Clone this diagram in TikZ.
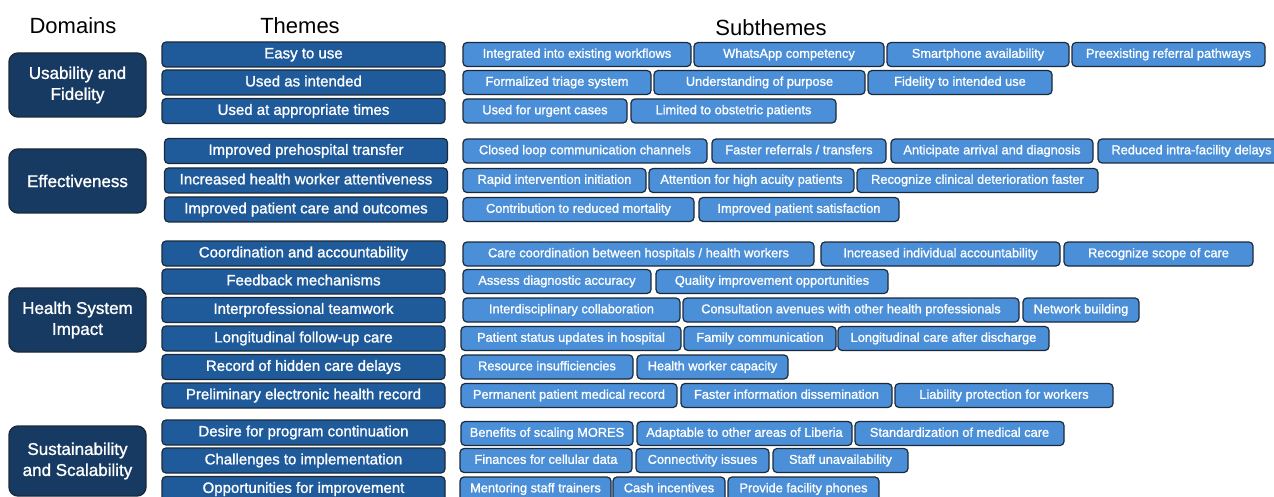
\documentclass[tikz,border=0pt]{standalone}
\usepackage{fontspec}
\setmainfont{Liberation Sans}
\newfontfamily\boxfont{Liberation Sans}[BoldFont={Liberation Sans}, BoldFeatures={FakeBold=1.2}]
\usepackage{tikz}
\usepackage{color}
\definecolor{domainblue}{HTML}{163A62}
\definecolor{themeblue}{HTML}{1F5B9B}
\definecolor{subblue}{HTML}{4A8FD8}
\definecolor{boxline}{HTML}{1B2A3A}
\tikzset{
	domainbox/.style={draw=boxline, line width=1.4pt, rounded corners=9pt, fill=domainblue, text=white, minimum width=137pt, minimum height=64pt, inner sep=0pt, align=center, font=\boxfont\bfseries\fontsize{17}{21}\selectfont},
	themebox/.style={draw=boxline, line width=1.2pt, rounded corners=4pt, fill=themeblue, text=white, minimum width=283pt, minimum height=25pt, inner sep=0pt, text height=11pt, text depth=3.2pt, font=\boxfont\bfseries\fontsize{15}{18}\selectfont},
	subbox/.style={draw=boxline, line width=1.2pt, rounded corners=4pt, fill=subblue, text=white, minimum height=24pt, inner sep=0pt, text height=9.4pt, text depth=2.8pt, font=\boxfont\bfseries\fontsize{12.8}{15}\selectfont},
	header/.style={font=\fontsize{22}{26}\selectfont}
}

\begin{document}
\begin{tikzpicture}[x=1pt,y=-1pt]
		\useasboundingbox (0,0) rectangle (1274,497);
		\clip (0,0) rectangle (1274,497);
		\node[header] (hdom) at (73,26) {Domains};
		\node[header] (hthe) at (300,26) {Themes};
		\node[header] (hsub) at (771,28) {Subthemes};
		%domains
		\node[domainbox] (uf) at (77.5,85) {Usability and\\Fidelity};
		\node[domainbox] (eff) at (77.5,181) {Effectiveness};
		\node[domainbox] (hsi) at (77.5,320) {Health System\\Impact};
		\node[domainbox, minimum height=70pt] (ss) at (77.5,461) {Sustainability\\and Scalability};
		%%% themes
		\node[themebox] (t1) at (303.5,54.5) {Easy to use};
		\node[themebox] (t2) at (303.5,82.5) {Used as intended};
		\node[themebox] (t3) at (303.5,111) {Used at appropriate times};
		\node[themebox] (t4) at (306,151) {Improved prehospital transfer};
		\node[themebox] (t5) at (306,180.5) {Increased health worker attentiveness};
		\node[themebox] (t6) at (306,209.5) {Improved patient care and outcomes};
		\node[themebox] (t7) at (303.5,253.5) {Coordination and accountability};
		\node[themebox] (t8) at (303.5,281.5) {Feedback mechanisms};
		\node[themebox] (t9) at (303.5,310) {Interprofessional teamwork};
		\node[themebox] (t10) at (303.5,338.5) {Longitudinal follow-up care};
		\node[themebox] (t11) at (303.5,367) {Record of hidden care delays};
		\node[themebox] (t12) at (303.5,395.5) {Preliminary electronic health record};
		\node[themebox] (t13) at (303.5,432.5) {Desire for program continuation};
		\node[themebox] (t14) at (303.5,460.5) {Challenges to implementation};
		\node[themebox] (t15) at (303.5,489) {Opportunities for improvement};
		%%% subthemes
		\node[subbox, minimum width=228] (s1a) at (577,54.5) {Integrated into existing workflows};
		\node[subbox, minimum width=190] (s1b) at (789,54.5) {WhatsApp competency};
		\node[subbox, minimum width=182] (s1c) at (978,54.5) {Smartphone availability};
		\node[subbox, minimum width=193] (s1d) at (1168.5,54.5) {Preexisting referral pathways};
		\node[subbox, minimum width=188] (s2a) at (557,82.5) {Formalized triage system};
		\node[subbox, minimum width=211] (s2b) at (759.5,82.5) {Understanding of purpose};
		\node[subbox, minimum width=184] (s2c) at (960,82.5) {Fidelity to intended use};
		\node[subbox, minimum width=164] (s3a) at (545,111) {Used for urgent cases};
		\node[subbox, minimum width=205] (s3b) at (733.5,111) {Limited to obstetric patients};
		%effectiveness
		\node[subbox, minimum width=244] (s4a) at (585,151) {Closed loop communication channels};
		\node[subbox, minimum width=174] (s4b) at (799,151) {Faster referrals / transfers};
		\node[subbox, minimum width=202] (s4c) at (992,151) {Anticipate arrival and diagnosis};
		\node[subbox, minimum width=187] (s4d) at (1191.5,151) {Reduced intra-facility delays};
		\node[subbox, minimum width=183] (s5a) at (554.5,180.5) {Rapid intervention initiation};
		\node[subbox, minimum width=205] (s5b) at (751.5,180.5) {Attention for high acuity patients};
		\node[subbox, minimum width=241] (s5c) at (977.5,180.5) {Recognize clinical deterioration faster};
		\node[subbox, minimum width=231] (s6a) at (578.5,209.5) {Contribution to reduced mortality};
		\node[subbox, minimum width=200] (s6b) at (799,209.5) {Improved patient satisfaction};
		%health system
		\node[subbox, minimum width=351] (s7a) at (638.5,254) {Care coordination between hospitals / health workers};
		\node[subbox, minimum width=239] (s7b) at (940.5,254) {Increased individual accountability};
		\node[subbox, minimum width=189] (s7c) at (1158.5,254) {Recognize scope of care};
		\node[subbox, minimum width=188] (s8a) at (557,281.5) {Assess diagnostic accuracy};
		\node[subbox, minimum width=232] (s8b) at (772,281.5) {Quality improvement opportunities};
		\node[subbox, minimum width=217] (s9a) at (571.5,310) {Interdisciplinary collaboration};
		\node[subbox, minimum width=336] (s9b) at (851,310) {Consultation avenues with other health professionals};
		\node[subbox, minimum width=116] (s9c) at (1081,310) {Network building};
		\node[subbox, minimum width=220] (s10a) at (571,338.5) {Patient status updates in hospital};
		\node[subbox, minimum width=152] (s10b) at (760,338.5) {Family communication};
		\node[subbox, minimum width=211] (s10c) at (943.5,338.5) {Longitudinal care after discharge};
		\node[subbox, minimum width=172] (s11a) at (547,367) {Resource insufficiencies};
		\node[subbox, minimum width=151] (s11b) at (712.5,367) {Health worker capacity};
		\node[subbox, minimum width=216] (s12a) at (569,395.5) {Permanent patient medical record};
		\node[subbox, minimum width=211] (s12b) at (786.5,395.5) {Faster information dissemination};
		\node[subbox, minimum width=218] (s12c) at (1004,395.5) {Liability protection for workers};
		%sustainability
		\node[subbox, minimum width=172] (s13a) at (547,433.5) {Benefits of scaling MORES};
		\node[subbox, minimum width=215] (s13b) at (744.5,433.5) {Adaptable to other areas of Liberia};
		\node[subbox, minimum width=209] (s13c) at (959.5,433.5) {Standardization of medical care};
		\node[subbox, minimum width=172] (s14a) at (546,460.5) {Finances for cellular data};
		\node[subbox, minimum width=133] (s14b) at (702.5,460.5) {Connectivity issues};
		\node[subbox, minimum width=135] (s14c) at (840.5,460.5) {Staff unavailability};
		\node[subbox, minimum width=151] (s15a) at (535.5,489) {Mentoring staff trainers};
		\node[subbox, minimum width=112] (s15b) at (669,489) {Cash incentives};
		\node[subbox, minimum width=151] (s15c) at (803.5,489) {Provide facility phones};
	\end{tikzpicture}
\end{document}
